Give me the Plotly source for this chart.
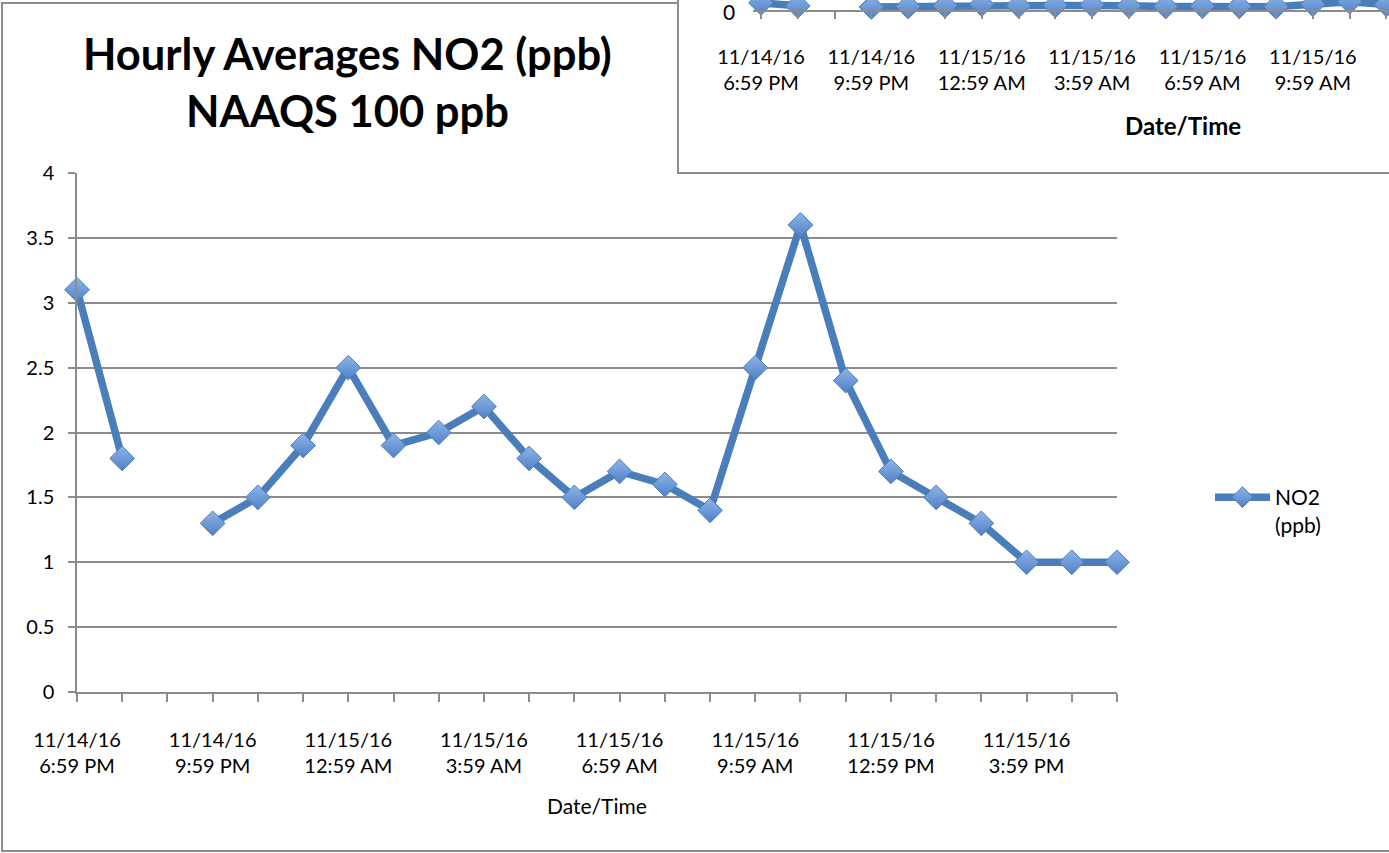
#!/usr/bin/env python
# -*- coding: utf-8 -*-
"""
NO2 hourly averages - line chart with a second (overlapping) chart window
"""

import plotly.graph_objects as go

# ---- data ----
times = [
    '11/14/16 6:59 PM', '11/14/16 7:59 PM', '11/14/16 8:59 PM',
    '11/14/16 9:59 PM', '11/14/16 10:59 PM', '11/14/16 11:59 PM',
    '11/15/16 12:59 AM', '11/15/16 1:59 AM', '11/15/16 2:59 AM',
    '11/15/16 3:59 AM', '11/15/16 4:59 AM', '11/15/16 5:59 AM',
    '11/15/16 6:59 AM', '11/15/16 7:59 AM', '11/15/16 8:59 AM',
    '11/15/16 9:59 AM', '11/15/16 10:59 AM', '11/15/16 11:59 AM',
    '11/15/16 12:59 PM', '11/15/16 1:59 PM', '11/15/16 2:59 PM',
    '11/15/16 3:59 PM', '11/15/16 4:59 PM', '11/15/16 5:59 PM',
]
no2_ppb = [3.1, 1.8, None, 1.3, 1.5, 1.9, 2.5, 1.9, 2.0, 2.2, 1.8, 1.5,
           1.7, 1.6, 1.4, 2.5, 3.6, 2.4, 1.7, 1.5, 1.3, 1.0, 1.0, 1.0]
label_every = 3
y_ticks = [0, 0.5, 1, 1.5, 2, 2.5, 3, 3.5, 4]

W, H = 1389, 853
FONT = 'Lato'
GRAY = '#8c8c8c'
LINE_BLUE = '#4a7ebb'


def px_x(p):
    return p / W


def px_y(p):
    return 1 - p / H


# tick text: date on first line, time on second, only every 3rd hour
tick_text = [t.replace(' ', '<br>', 1) if i % label_every == 0 else ''
             for i, t in enumerate(times)]

marker_style = dict(
    symbol='diamond', size=19,
    color='#8fb5e8',
    gradient=dict(type='vertical', color='#4f80c6'),
    line=dict(color='#4a7ebb', width=1),
)

fig = go.Figure()

# 后面那张图（右上角露出的一部分）
fig.add_trace(go.Scatter(
    x=times, y=no2_ppb, mode='lines+markers',
    line=dict(color=LINE_BLUE, width=7.5),
    marker=marker_style, cliponaxis=False,
    xaxis='x2', yaxis='y2', showlegend=False,
))

# 主图
fig.add_trace(go.Scatter(
    x=times, y=no2_ppb, mode='lines+markers',
    name='NO2<br>(ppb)',
    line=dict(color=LINE_BLUE, width=7.5),
    marker=marker_style, cliponaxis=False,
))

axis_font = dict(family=FONT, size=20, color='black')

fig.update_layout(
    template='none',
    width=W, height=H, autosize=False,
    margin=dict(l=0, r=0, t=0, b=0, pad=0),
    paper_bgcolor='white', plot_bgcolor='white',
    font=dict(family=FONT, color='black'),
    xaxis=dict(
        domain=[px_x(77), px_x(1117)], anchor='y', automargin=False,
        type='category', categoryorder='array', categoryarray=times,
        range=[0, len(times) - 1],
        showgrid=False, zeroline=False,
        showline=True, linecolor=GRAY, linewidth=1.5,
        ticks='outside', ticklen=8, tickwidth=1.5, tickcolor=GRAY,
        tickmode='array', tickvals=times, ticktext=tick_text,
        tickfont=axis_font, ticklabelstandoff=21,
    ),
    yaxis=dict(
        domain=[px_y(692), px_y(173)], anchor='x', automargin=False,
        range=[0, 4], tickvals=y_ticks,
        showgrid=True, gridcolor=GRAY, gridwidth=1.5, zeroline=False,
        showline=True, linecolor=GRAY, linewidth=1.5,
        ticks='outside', ticklen=7, tickwidth=1.5, tickcolor=GRAY,
        tickfont=axis_font, ticklabelstandoff=10,
    ),
    xaxis2=dict(
        domain=[px_x(753), 1], anchor='y2', automargin=False,
        type='category', categoryorder='array', categoryarray=times,
        range=[-0.217, 17.07],
        showgrid=False, zeroline=False,
        showline=True, linecolor=GRAY, linewidth=1.5,
        ticks='outside', ticklen=7, tickwidth=1.5, tickcolor=GRAY,
        tickmode='array', tickvals=times, ticktext=tick_text,
        tickfont=axis_font, ticklabelstandoff=21,
    ),
    yaxis2=dict(
        domain=[px_y(10), 1], anchor='x2', automargin=False,
        range=[0, 4.35], showticklabels=False,
        showgrid=False, zeroline=False, showline=False, ticks='',
    ),
    legend=dict(
        x=px_x(1210), y=px_y(477), xanchor='left', yanchor='top',
        bgcolor='rgba(0,0,0,0)', font=dict(family=FONT, size=21),
        valign='top', itemwidth=55,
    ),
    shapes=[
        # outer border of the main chart
        dict(type='rect', xref='paper', yref='paper', layer='below',
             x0=px_x(2), x1=px_x(1420), y0=px_y(851), y1=px_y(3),
             line=dict(color=GRAY, width=2), fillcolor='white'),
        # window of the overlapping chart
        dict(type='rect', xref='paper', yref='paper', layer='below',
             x0=px_x(678), x1=px_x(1420), y0=px_y(173), y1=px_y(-20),
             line=dict(color=GRAY, width=2), fillcolor='white'),
    ],
    annotations=[
        dict(text='<b>Hourly Averages NO2 (ppb)<br>NAAQS 100 ppb</b>',
             xref='paper', yref='paper', x=px_x(348), y=px_y(81),
             xanchor='center', yanchor='middle', showarrow=False,
             font=dict(family=FONT, size=43.5, color='black')),
        dict(text='Date/Time', xref='paper', yref='paper',
             x=px_x(597), y=px_y(805), xanchor='center', yanchor='middle',
             showarrow=False, font=dict(family=FONT, size=21, color='black')),
        # y tick label of the overlapping chart
        dict(text='0', xref='paper', yref='paper',
             x=px_x(729), y=px_y(11), xanchor='center', yanchor='middle',
             showarrow=False, font=dict(family=FONT, size=21, color='black')),
        dict(text='<b>Date/Time</b>', xref='paper', yref='paper',
             x=px_x(1183), y=px_y(125), xanchor='center', yanchor='middle',
             showarrow=False, font=dict(family=FONT, size=24, color='black')),
    ],
)

# page body has an 8px default margin; drop it so the figure fills the window
fig.write_html("out.html", config={'displayModeBar': False},
               post_script="document.body.style.margin = '0';")
